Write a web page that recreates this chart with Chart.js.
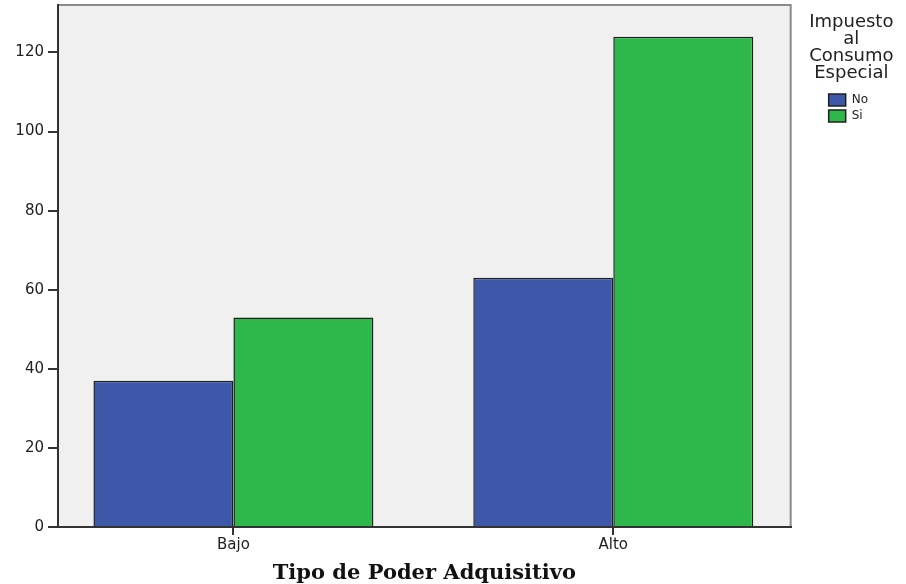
<!DOCTYPE html>
<html>
<head>
<meta charset="utf-8">
<script src="https://cdn.jsdelivr.net/npm/chart.js@4.4.1/dist/chart.umd.min.js"></script>
<style>
  html, body { margin: 0; padding: 0; background: #ffffff; }
  #wrap { width: 906px; height: 584px; }
</style>
</head>
<body>
<div id="wrap"><canvas id="c" width="906" height="584"></canvas></div>
<script>
const categories = ['Bajo', 'Alto'];
const seriesNames = ['No', 'Si'];
const noValues = [37, 63];
const siValues = [53, 124];
const legendTitle = ['Impuesto', 'al', 'Consumo', 'Especial'];
const xAxisTitle = 'Tipo de Poder Adquisitivo';

const toPoints = vals => categories.map((c, i) => ({ x: i, y: vals[i] }));

const plotFrame = {
  id: 'plotFrame',
  afterLayout(chart) {
    // let the legend title (wider than the item column) overflow its box
    const lg = chart.legend;
    if (lg && !lg._noClip) {
      lg._noClip = true;
      lg.draw = function () { if (this.options.display) this._draw(); };
    }
  },
  beforeDraw(chart) {
    const { ctx, chartArea: { left, top, right, bottom } } = chart;
    ctx.save();
    ctx.fillStyle = '#f0f0f0';
    ctx.fillRect(left, top, right - left, bottom - top);
    ctx.strokeStyle = '#8a8a8a';
    ctx.lineWidth = 2;
    ctx.beginPath();
    ctx.moveTo(left, top);
    ctx.lineTo(right, top);
    ctx.lineTo(right, bottom);
    ctx.stroke();
    ctx.restore();
  }
};

new Chart(document.getElementById('c'), {
  type: 'bar',
  data: {
    datasets: [
      {
        label: seriesNames[0],
        data: toPoints(noValues),
        backgroundColor: '#3d58a9',
        borderColor: '#202020',
        borderWidth: 1.5,
        categoryPercentage: 0.737,
        barPercentage: 1,
        xAxisID: 'x',
        yAxisID: 'y'
      },
      {
        label: seriesNames[1],
        data: toPoints(siValues),
        backgroundColor: '#2eb84b',
        borderColor: '#202020',
        borderWidth: 1.5,
        categoryPercentage: 0.737,
        barPercentage: 1,
        xAxisID: 'x',
        yAxisID: 'y'
      }
    ]
  },
  options: {
    responsive: false,
    animation: false,
    devicePixelRatio: 1,
    layout: { padding: { top: 5, left: 0, right: 28, bottom: 0 } },
    plugins: {
      tooltip: { enabled: false },
      legend: {
        position: 'right',
        align: 'start',
        title: {
          display: true,
          text: legendTitle,
          color: '#222222',
          position: 'center',
          font: { family: 'DejaVu Sans', size: 18, lineHeight: '17px' },
          padding: { top: 8, bottom: 60 }
        },
        labels: {
          boxWidth: 17,
          boxHeight: 12,
          padding: 4,
          color: '#222222',
          font: { family: 'DejaVu Sans', size: 12 }
        }
      }
    },
    scales: {
      x: {
        type: 'linear',
        position: 'bottom',
        min: -0.4618,
        max: 1.467,
        offset: false,
        grid: { display: true, offset: false, drawOnChartArea: false, drawTicks: true, tickLength: 8, color: '#333333', lineWidth: 2 },
        border: { display: true, color: '#333333', width: 2 },
        ticks: {
          autoSkip: false,
          maxRotation: 0,
          padding: 1,
          color: '#222222',
          font: { family: 'DejaVu Sans', size: 15 },
          callback: v => (categories[v] !== undefined ? categories[v] : '')
        },
        afterBuildTicks: s => { s.ticks = categories.map((c, i) => ({ value: i })); },
        title: {
          display: true,
          text: xAxisTitle,
          color: '#111111',
          font: { family: 'DejaVu Serif', size: 21, weight: 'bold', lineHeight: 1 },
          padding: 0
        },
        afterFit: s => { s.height = 57; s.paddingLeft = 0; s.paddingRight = 0; }
      },
      y: {
        type: 'linear',
        position: 'left',
        min: 0,
        max: 132,
        grid: { display: true, drawOnChartArea: false, drawTicks: true, tickLength: 10, color: '#333333', lineWidth: 2 },
        border: { display: true, color: '#333333', width: 2 },
        ticks: {
          stepSize: 20,
          includeBounds: false,
          padding: 4,
          color: '#222222',
          font: { family: 'DejaVu Sans', size: 15 }
        },
        afterFit: s => { s.width = 58; s.paddingTop = 0; s.paddingBottom = 0; }
      },
      y2: {
        type: 'linear',
        position: 'right',
        display: true,
        grid: { display: false },
        border: { display: false },
        ticks: { display: false },
        afterFit: s => { s.width = 34; s.paddingTop = 0; s.paddingBottom = 0; }
      }
    }
  },
  plugins: [plotFrame]
});
</script>
</body>
</html>
